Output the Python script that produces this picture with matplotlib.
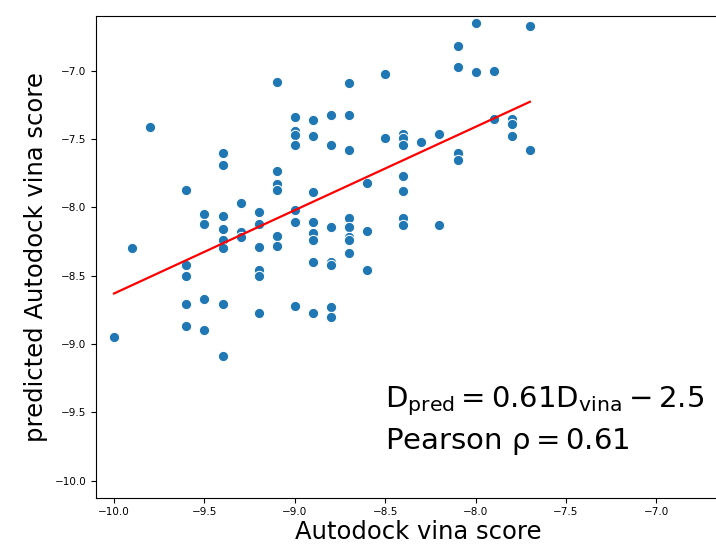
import numpy as np
import matplotlib
import matplotlib.pyplot as plt

matplotlib.use('Agg')
plt.rcParams['mathtext.default'] = 'regular'

# Autodock vina score (x) and predicted score (y)
vina = [-10.0, -9.9, -9.8,
        -9.6, -9.6, -9.6, -9.6, -9.6,
        -9.5, -9.5, -9.5, -9.5,
        -9.4, -9.4, -9.4, -9.4, -9.4, -9.4, -9.4, -9.4,
        -9.3, -9.3, -9.3,
        -9.2, -9.2, -9.2, -9.2, -9.2, -9.2,
        -9.1, -9.1, -9.1, -9.1, -9.1, -9.1,
        -9.0, -9.0, -9.0, -9.0, -9.0, -9.0, -9.0,
        -8.9, -8.9, -8.9, -8.9, -8.9, -8.9, -8.9, -8.9,
        -8.8, -8.8, -8.8, -8.8, -8.8, -8.8, -8.8,
        -8.7, -8.7, -8.7, -8.7, -8.7, -8.7, -8.7, -8.7,
        -8.6, -8.6, -8.6,
        -8.5, -8.5,
        -8.4, -8.4, -8.4, -8.4, -8.4, -8.4, -8.4,
        -8.3,
        -8.2, -8.2,
        -8.1, -8.1, -8.1, -8.1,
        -8.0, -8.0,
        -7.9, -7.9,
        -7.8, -7.8, -7.8,
        -7.7, -7.7]
pred = [-8.95, -8.30, -7.41,
        -7.87, -8.42, -8.50, -8.71, -8.87,
        -8.05, -8.12, -8.67, -8.90,
        -7.60, -7.69, -8.06, -8.16, -8.24, -8.30, -8.71, -9.09,
        -7.97, -8.18, -8.22,
        -8.03, -8.12, -8.29, -8.46, -8.50, -8.77,
        -7.08, -7.73, -7.83, -7.87, -8.21, -8.28,
        -7.34, -7.44, -7.47, -7.54, -8.02, -8.11, -8.72,
        -7.36, -7.48, -7.89, -8.11, -8.19, -8.24, -8.40, -8.77,
        -7.32, -7.54, -8.14, -8.40, -8.42, -8.73, -8.80,
        -7.09, -7.32, -7.58, -8.08, -8.14, -8.22, -8.24, -8.33,
        -7.82, -8.17, -8.46,
        -7.02, -7.49,
        -7.46, -7.49, -7.54, -7.77, -7.88, -8.08, -8.13,
        -7.52,
        -7.46, -8.13,
        -6.82, -6.97, -7.60, -7.65,
        -6.65, -7.01,
        -7.00, -7.35,
        -7.35, -7.39, -7.48,
        -6.67, -7.58]

# fitted line shown in red
slope = 0.61
intercept = -2.53

fig = plt.figure(figsize=(7.16, 5.47), dpi=100)
ax = fig.add_axes([0.134, 0.09, 0.9, 0.881])

ax.scatter(vina, pred, s=55, color='#1f77b4', edgecolor='white', linewidth=0.75, zorder=2)

x_fit = np.array([min(vina), max(vina)])
ax.plot(x_fit, slope * x_fit + intercept, color='red', linewidth=1.6, zorder=3)

ax.set_xlim(-10.1, -6.536)
ax.set_ylim(-10.125, -6.598)
ax.set_xticks([-10.0, -9.5, -9.0, -8.5, -8.0, -7.5, -7.0])
ax.set_yticks([-10.0, -9.5, -9.0, -8.5, -8.0, -7.5, -7.0])
ax.tick_params(labelsize=7.5)

ax.set_xlabel('Autodock vina score', fontsize=17.5, labelpad=2)
ax.set_ylabel('predicted Autodock vina score', fontsize=17.5, labelpad=5)

ax.text(-8.50, -9.42, r'$D_{pred} = 0.61D_{vina} - 2.5$', fontsize=21, va='center')
ax.text(-8.50, -9.71, r'Pearson $\rho = 0.61$', fontsize=21, va='center')

plt.savefig('out.png', dpi=100)
